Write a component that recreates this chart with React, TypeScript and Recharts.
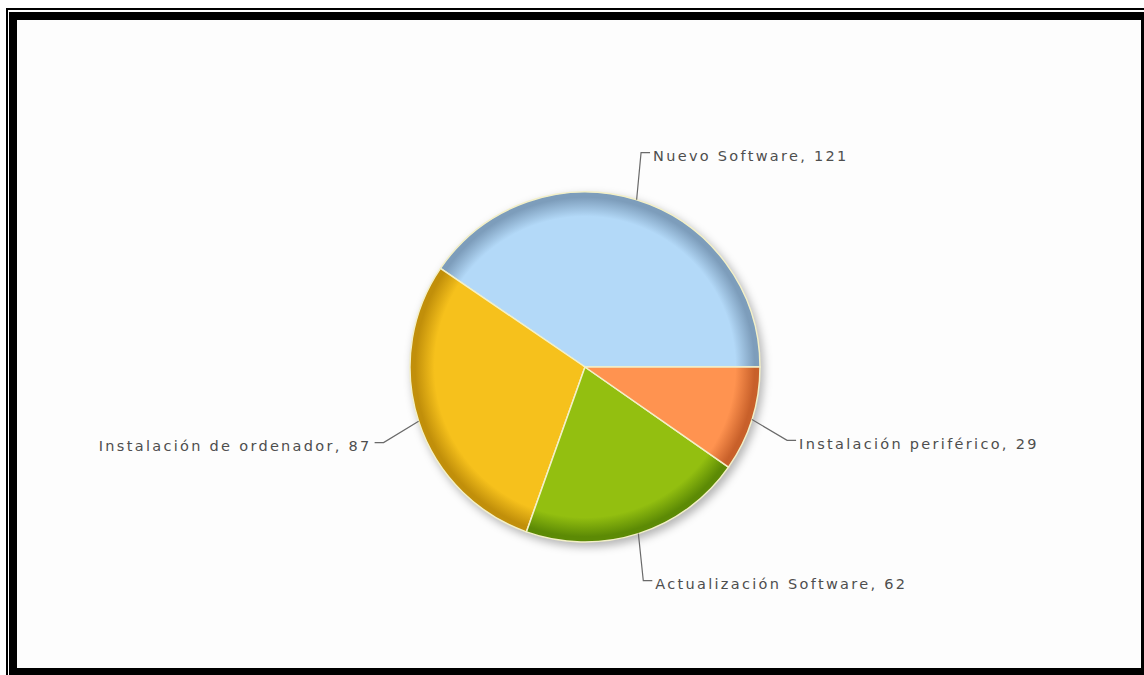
import { Cell, Pie, PieChart } from "recharts";

const categories = [
  "Nuevo Software",
  "Instalación de ordenador",
  "Actualización Software",
  "Instalación periférico",
];
const counts = [121, 87, 62, 29];
const baseColors = ["#b3d9f8", "#f6c11c", "#93bf10", "#ff9350"];
const edgeColors = ["#7d9dbb", "#c18f0a", "#5c8a05", "#c8602a"];

const data = categories.map((name, i) => ({ name, value: counts[i] }));
const total = counts.reduce((a, b) => a + b, 0);

const CX = 585;
const CY = 367;
const R = 175;
const RAD = Math.PI / 180;

function renderLabel(props: any) {
  const { cx, cy, midAngle, outerRadius, name, value } = props;
  const c = Math.cos(midAngle * RAD);
  const s = Math.sin(midAngle * RAD);
  const push = 2.5 * Math.sign(c) * Math.sign(s);
  const sx = cx + outerRadius * c;
  const sy = cy - outerRadius * s;
  // labels near the horizontal sit a bit closer to the pie
  const er = outerRadius + 37 + 10 * Math.abs(s);
  const ea = (midAngle + push) * RAD;
  const ex = cx + er * Math.cos(ea);
  const ey = cy - er * Math.sin(ea);
  const right = c >= 0;
  const hx = ex + (right ? 9 : -9);
  return (
    <g>
      <polyline
        points={`${sx},${sy} ${ex},${ey} ${hx},${ey}`}
        fill="none"
        stroke="#6a6a6a"
        strokeWidth={1.2}
      />
      <text
        x={hx + (right ? 3 : -3)}
        y={ey + 3.5}
        textAnchor={right ? "start" : "end"}
        dominantBaseline="central"
        fontFamily="DejaVu Sans, Verdana, sans-serif"
        fontSize={14.5}
        letterSpacing={2.3}
        fill="#4e4e4e"
      >
        {`${name}, ${value}`}
      </text>
    </g>
  );
}

export default function App() {
  return (
    <div
      style={{
        position: "absolute",
        left: 0,
        top: 0,
        width: 1144,
        height: 675,
        background: "#ffffff",
        overflow: "hidden",
      }}
    >
      {/* double black frame */}
      <div style={{ position: "absolute", left: 6, top: 8, right: -10, bottom: -10, background: "#000" }} />
      <div style={{ position: "absolute", left: 8, top: 10, right: -10, bottom: -10, background: "#fff" }} />
      <div style={{ position: "absolute", left: 9, top: 12, right: -10, bottom: -10, background: "#000" }} />
      <div
        style={{
          position: "absolute",
          left: 17,
          top: 20,
          width: 1124,
          height: 648,
          background: "#fdfdfd",
        }}
      />
      <div style={{ position: "absolute", left: 0, top: 0 }}>
        <PieChart width={1144} height={675} margin={{ top: 0, right: 0, bottom: 0, left: 0 }}>
          <defs>
            <filter id="blurShadow" x="-20%" y="-20%" width="140%" height="140%">
              <feGaussianBlur stdDeviation="4" />
            </filter>
            {baseColors.map((col, i) => (
              <radialGradient
                key={i}
                id={`shade${i}`}
                gradientUnits="userSpaceOnUse"
                cx={CX}
                cy={CY}
                r={R}
              >
                <stop offset="0%" stopColor={col} />
                <stop offset="86%" stopColor={col} />
                <stop offset="97%" stopColor={edgeColors[i]} />
                <stop offset="100%" stopColor={edgeColors[i]} />
              </radialGradient>
            ))}
          </defs>
          <Pie
            data={[{ name: "shadow", value: total }]}
            dataKey="value"
            cx={CX + 3}
            cy={CY + 4}
            outerRadius={R + 1}
            fill="#000"
            fillOpacity={0.28}
            stroke="none"
            filter="url(#blurShadow)"
            isAnimationActive={false}
          />
          <Pie
            data={data}
            dataKey="value"
            nameKey="name"
            cx={CX}
            cy={CY}
            outerRadius={R}
            startAngle={0}
            endAngle={360}
            stroke="#f3f0c8"
            strokeWidth={1.5}
            label={renderLabel}
            labelLine={false}
            isAnimationActive={false}
          >
            {data.map((d, i) => (
              <Cell key={d.name} fill={`url(#shade${i})`} />
            ))}
          </Pie>
        </PieChart>
      </div>
    </div>
  );
}
